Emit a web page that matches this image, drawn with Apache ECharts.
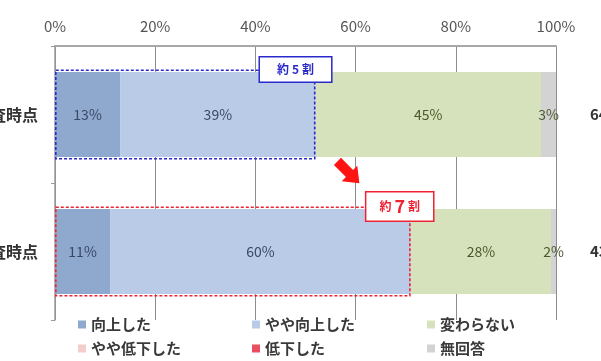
<!DOCTYPE html>
<html>
<head>
<meta charset="utf-8">
<script src="https://cdn.jsdelivr.net/npm/echarts@6/dist/echarts.min.js"></script>
<style>
  html, body { margin: 0; padding: 0; background: #fff; }
  #chart { width: 601px; height: 361px; }
</style>
</head>
<body>
<div id="chart"></div>
<script>
// Survey rows (top to bottom) and the sample counts shown at the right edge
const categories = ['前回調査時点', '今回調査時点'];
const sampleCounts = ['648', '432'];

// Share of answers per row, in percent
const improved = [13, 11];          // 向上した
const slightlyImproved = [39, 60];  // やや向上した
const unchanged = [45, 28];         // 変わらない
const slightlyDeclined = [0, 0];    // やや低下した
const declined = [0, 0];            // 低下した
const noAnswer = [3, 2];            // 無回答

// Legend layout: two rows of three
const legendRows = [
  ['向上した', 'やや向上した', '変わらない'],
  ['やや低下した', '低下した', '無回答']
];

// Callout text for the combined "improved" share of each row
const calloutNumbers = ['5', '7'];
const calloutColors = ['#2a2acc', '#ee2233'];

const FONT = '"Noto Sans CJK JP", "Noto Sans", sans-serif';

const chart = echarts.init(document.getElementById('chart'), null, { renderer: 'canvas' });

function segment(name, values, color, labelColor) {
  return {
    name: name,
    type: 'bar',
    stack: 'total',
    yAxisIndex: 0,
    barWidth: 85,
    data: values,
    itemStyle: { color: color },
    label: {
      show: true,
      position: 'inside',
      fontFamily: FONT,
      fontSize: 14,
      color: labelColor,
      formatter: p => (p.value > 0 ? p.value + '%' : '')
    },
    emphasis: { disabled: true }
  };
}

// Combined improved share per row, outlined with a dashed box
const improvedTotal = improved.map((v, i) => v + slightlyImproved[i]);

const outline = {
  name: 'outline',
  type: 'bar',
  yAxisIndex: 1,
  barWidth: 90,
  z: 5,
  silent: true,
  data: improvedTotal.map((v, i) => ({
    value: v,
    itemStyle: {
      color: 'rgba(0,0,0,0)',
      borderColor: calloutColors[i],
      borderWidth: 1.6,
      borderType: [3, 2]
    },
    label: {
      show: true,
      position: ['100%', 0],
      offset: i === 0 ? [-20, 0] : [-11, 0],
      align: 'center',
      verticalAlign: 'middle',
      formatter: '{s|約}{b|' + calloutNumbers[i] + '}{s|割}',
      backgroundColor: '#fff',
      borderColor: calloutColors[i],
      borderWidth: 1.5,
      padding: i === 0 ? [6, 17] : [5, 13],
      rich: {
        s: { fontFamily: FONT, fontWeight: 'bold', fontSize: 12, color: calloutColors[i] },
        b: {
          fontFamily: FONT, fontWeight: 'bold', color: calloutColors[i],
          fontSize: i === 0 ? 12 : 18, padding: [0, 3]
        }
      }
    }
  }))
};

// One legend component per entry so the entries sit in fixed columns
const legendColumns = [78, 252, 427];
const legendTops = [317, 341];
const legends = [];
legendRows.forEach((row, r) => {
  row.forEach((name, c) => {
    legends.push({
      data: [name],
      left: legendColumns[c],
      top: legendTops[r],
      padding: 0,
      itemWidth: 8, itemHeight: 8,
      icon: 'rect',
      textStyle: { fontFamily: FONT, fontSize: 15, color: '#3a3a3a', fontWeight: 'bold' }
    });
  });
});

const option = {
  animation: false,
  backgroundColor: '#fff',
  grid: { left: 55, right: 45, top: 46, bottom: 41, containLabel: false, outerBoundsMode: 'none' },
  legend: legends,
  xAxis: {
    type: 'value',
    position: 'top',
    min: 0, max: 100, interval: 20,
    axisLabel: { formatter: '{value}%', fontFamily: FONT, fontSize: 15, color: '#555', margin: 12 },
    axisLine: { show: true, lineStyle: { color: '#a8a8a8', width: 2 } },
    axisTick: { show: false },
    splitLine: { show: true, lineStyle: { color: '#8c8c8c', width: 1 } }
  },
  yAxis: [
    {
      type: 'category',
      inverse: true,
      data: categories,
      axisLine: { show: true, lineStyle: { color: '#9a9a9a', width: 1.5 } },
      axisTick: { show: true, length: 4, lineStyle: { color: '#9a9a9a' } },
      axisLabel: { fontFamily: FONT, fontSize: 16, fontWeight: 'bold', color: '#333', margin: 17 }
    },
    {
      type: 'category',
      inverse: true,
      position: 'right',
      data: sampleCounts,
      axisLine: { show: false },
      axisTick: { show: false },
      axisLabel: { fontFamily: FONT, fontSize: 15, fontWeight: 'bold', color: '#333', margin: 34 }
    }
  ],
  series: [
    segment('向上した', improved, '#8fa8cd', '#3a4866'),
    segment('やや向上した', slightlyImproved, '#b9cbe6', '#3a4866'),
    segment('変わらない', unchanged, '#d6e2bb', '#4a5a2c'),
    segment('やや低下した', slightlyDeclined, '#f4cdcb', '#333'),
    segment('低下した', declined, '#e8505f', '#333'),
    segment('無回答', noAnswer, '#d3d3d3', '#4a5a2c'),
    outline
  ]
};

chart.setOption(option);

// Red arrow between the two callouts, pointing from the first box toward the second
const x0 = chart.convertToPixel({ xAxisIndex: 0 }, 0);
const x100 = chart.convertToPixel({ xAxisIndex: 0 }, 100);
const yTop = chart.convertToPixel({ yAxisIndex: 0 }, categories[0]);
const yBottom = chart.convertToPixel({ yAxisIndex: 0 }, categories[1]);
const midShare = (improvedTotal[0] + improvedTotal[1]) / 2 - 3;
const arrowX = x0 + (x100 - x0) * midShare / 100;
const arrowY = (yTop + yBottom) / 2 - 11;

chart.setOption({
  graphic: [{
    type: 'polygon',
    x: arrowX,
    y: arrowY,
    rotation: -Math.PI / 4,
    z: 10,
    shape: {
      points: [[-15, -5], [2, -5], [2, -11], [16, 0], [2, 11], [2, 5], [-15, 5]]
    },
    style: { fill: '#ff1414' },
    silent: true
  }]
});
</script>
</body>
</html>
